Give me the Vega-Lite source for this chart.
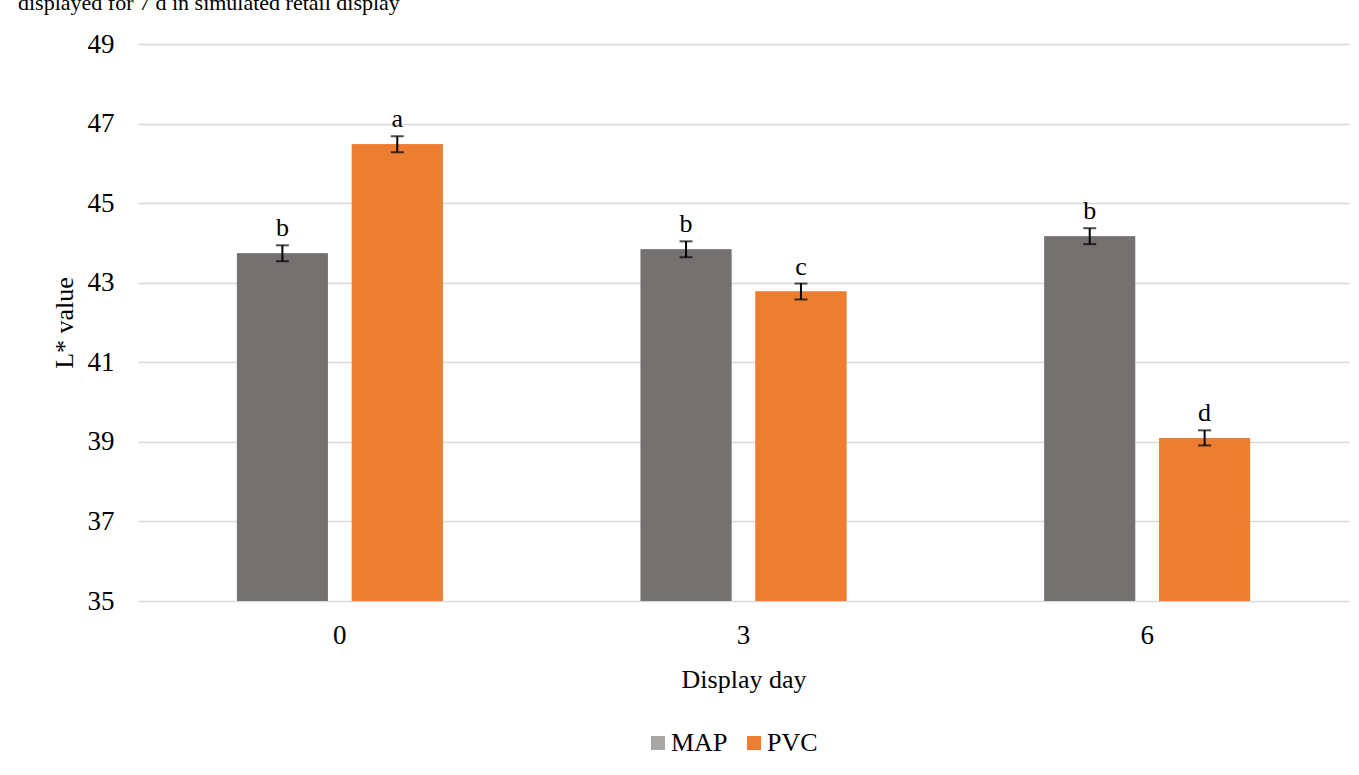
{
  "$schema": "https://vega.github.io/schema/vega-lite/v6.json",
  "autosize": {"type": "none"},
  "width": 1211,
  "height": 557,
  "padding": {"left": 138, "top": 44, "right": 10, "bottom": 174},
  "background": "white",
  "title": {
    "text": "displayed for 7 d in simulated retail display",
    "anchor": "start",
    "frame": "group",
    "dx": -120,
    "offset": 18,
    "dy": 20,
    "baseline": "alphabetic",
    "font": "Liberation Serif",
    "fontSize": 22,
    "fontWeight": "normal",
    "color": "#000000"
  },
  "config": {
    "view": {"stroke": null},
    "font": "Liberation Serif",
    "axis": {
      "labelFont": "Liberation Serif",
      "titleFont": "Liberation Serif",
      "labelFontSize": 27,
      "titleFontSize": 26,
      "titleFontWeight": "normal",
      "labelColor": "#000000",
      "titleColor": "#000000"
    },
    "legend": {
      "labelFont": "Liberation Serif",
      "labelFontSize": 26,
      "labelColor": "#000000"
    }
  },
  "data": {
    "values": [
      {"day": "0", "pack": "MAP", "value": 43.74, "lo": 43.54, "hi": 43.94, "letter": "b"},
      {"day": "0", "pack": "PVC", "value": 46.48, "lo": 46.28, "hi": 46.68, "letter": "a"},
      {"day": "3", "pack": "MAP", "value": 43.84, "lo": 43.64, "hi": 44.04, "letter": "b"},
      {"day": "3", "pack": "PVC", "value": 42.78, "lo": 42.58, "hi": 42.98, "letter": "c"},
      {"day": "6", "pack": "MAP", "value": 44.17, "lo": 43.97, "hi": 44.37, "letter": "b"},
      {"day": "6", "pack": "PVC", "value": 39.10, "lo": 38.91, "hi": 39.29, "letter": "d"}
    ]
  },
  "encoding": {
    "x": {
      "field": "day",
      "type": "nominal",
      "sort": ["0", "3", "6"],
      "scale": {"paddingInner": 0, "paddingOuter": 0},
      "axis": {
        "title": "Display day",
        "labelAngle": 0,
        "domain": false,
        "ticks": false,
        "grid": false,
        "labelPadding": 21,
        "titlePadding": 18
      }
    },
    "xOffset": {
      "field": "pack",
      "type": "nominal",
      "sort": ["MAP", "PVC"],
      "scale": {"paddingInner": 0.2087, "paddingOuter": 0.861}
    }
  },
  "layer": [
    {
      "mark": {"type": "bar"},
      "encoding": {
        "y": {
          "field": "value",
          "type": "quantitative",
          "scale": {"domain": [35, 49], "nice": false, "zero": false},
          "axis": {
            "title": "L* value",
            "values": [35, 37, 39, 41, 43, 45, 47, 49],
            "domain": false,
            "ticks": false,
            "grid": true,
            "gridColor": "#d9d9d9",
            "gridWidth": 1.5,
            "labelPadding": 24,
            "titlePadding": 10
          }
        },
        "y2": {"datum": 35},
        "color": {
          "field": "pack",
          "type": "nominal",
          "sort": ["MAP", "PVC"],
          "scale": {"domain": ["MAP", "PVC"], "range": ["#A9A6A6", "#ED7D31"]},
          "legend": {
            "title": null,
            "orient": "none",
            "legendX": 507,
            "legendY": 686,
            "direction": "horizontal",
            "symbolType": "square",
            "symbolSize": 196,
            "symbolStrokeWidth": 0,
            "symbolOpacity": 1,
            "labelOffset": 0,
            "columnPadding": 13
          }
        }
      }
    },
    {
      "mark": {"type": "bar"},
      "encoding": {
        "y": {"field": "value", "type": "quantitative"},
        "y2": {"datum": 35},
        "color": {
          "field": "pack",
          "type": "nominal",
          "sort": ["MAP", "PVC"],
          "scale": {"domain": ["MAP", "PVC"], "range": ["#767171", "#ED7D31"]},
          "legend": null
        }
      }
    },
    {
      "mark": {"type": "rule", "color": "#000000", "strokeWidth": 2},
      "encoding": {
        "y": {"field": "lo", "type": "quantitative"},
        "y2": {"field": "hi"}
      }
    },
    {
      "mark": {"type": "tick", "color": "#000000", "thickness": 2, "size": 13},
      "encoding": {
        "y": {"field": "lo", "type": "quantitative"}
      }
    },
    {
      "mark": {"type": "tick", "color": "#000000", "thickness": 2, "size": 13},
      "encoding": {
        "y": {"field": "hi", "type": "quantitative"}
      }
    },
    {
      "mark": {"type": "text", "baseline": "alphabetic", "dy": -9, "fontSize": 26, "font": "Liberation Serif", "color": "#000000"},
      "encoding": {
        "y": {"field": "hi", "type": "quantitative"},
        "text": {"field": "letter"}
      }
    }
  ],
  "resolve": {"scale": {"color": "independent"}}
}
